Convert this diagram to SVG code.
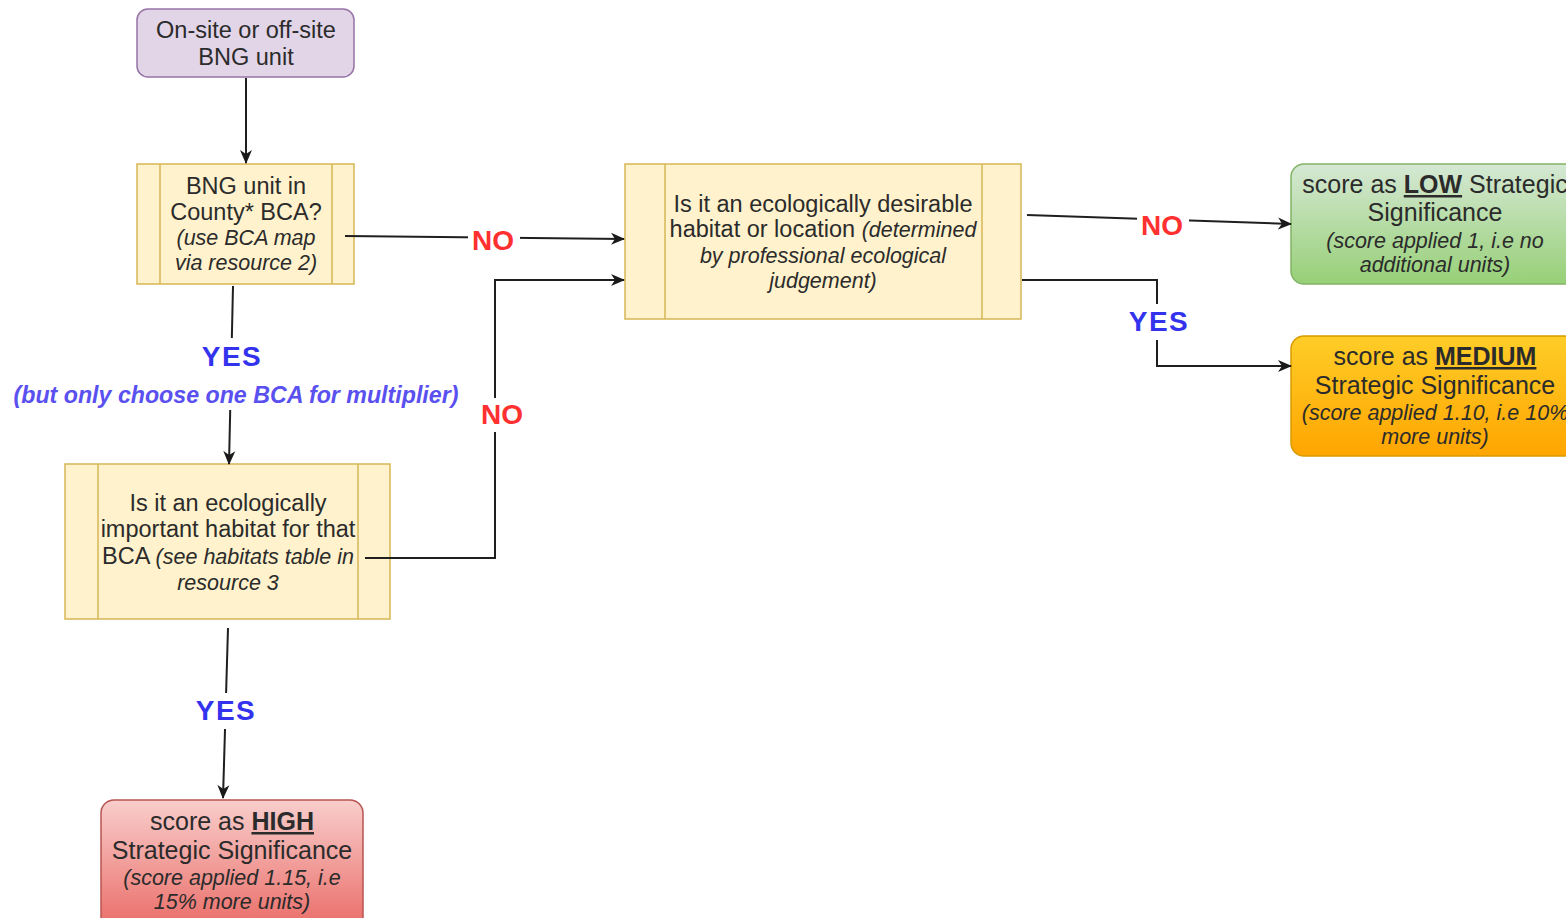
<svg xmlns="http://www.w3.org/2000/svg" width="1566" height="918" viewBox="0 0 1566 918">
<defs>
<linearGradient id="gGreen" x1="0" y1="0" x2="0" y2="1"><stop offset="0" stop-color="#d5e8d4"/><stop offset="1" stop-color="#97d077"/></linearGradient>
<linearGradient id="gOrange" x1="0" y1="0" x2="0" y2="1"><stop offset="0" stop-color="#ffcd28"/><stop offset="1" stop-color="#ffa500"/></linearGradient>
<linearGradient id="gRed" x1="0" y1="0" x2="0" y2="1"><stop offset="0" stop-color="#f8cecc"/><stop offset="1" stop-color="#ea6b66"/></linearGradient>
<marker id="arr" markerWidth="14" markerHeight="14" refX="13" refY="7" orient="auto" markerUnits="userSpaceOnUse" viewBox="0 0 14 14">
<path d="M0,1 L14,7 L0,13 L4,7 Z" fill="#1a1a1a"/>
</marker>
<style>
text{font-family:"Liberation Sans",Arial,sans-serif;fill:#2b2b2b;text-anchor:middle}
.t{font-size:23.5px}
.r{font-size:25px}
.i{font-size:21.5px;font-style:italic}
.b{font-weight:bold;text-decoration:underline}
.proc{fill:#fff2cc;stroke:#d6b656;stroke-width:1.5}
.e{stroke:#1f1f1f;stroke-width:2;fill:none}
.no{font-size:28px;font-weight:bold;fill:#ff3030}
.yes{font-size:28px;font-weight:bold;fill:#3333ee;letter-spacing:1.5px}
.note{font-size:23.2px;font-weight:bold;font-style:italic;fill:#5a50f0}
</style>
</defs>

<g id="start">
<rect x="137" y="9" width="217" height="68" rx="11" fill="#e1d5e7" stroke="#9673a6" stroke-width="1.5"/>
<text class="t" x="246" y="38">On-site or off-site</text>
<text class="t" x="246" y="65">BNG unit</text>
</g>

<g id="q-bca">
<rect class="proc" x="137" y="164" width="217" height="120"/>
<line class="proc" x1="160" y1="164" x2="160" y2="284"/>
<line class="proc" x1="332" y1="164" x2="332" y2="284"/>
<text class="t" x="246" y="194">BNG unit in</text>
<text class="t" x="246" y="220">County* BCA?</text>
<text class="i" x="246" y="245">(use BCA map</text>
<text class="i" x="246" y="270">via resource 2)</text>
</g>

<g id="q-desirable">
<rect class="proc" x="625" y="164" width="396" height="155"/>
<line class="proc" x1="665" y1="164" x2="665" y2="319"/>
<line class="proc" x1="982" y1="164" x2="982" y2="319"/>
<text class="t" x="823" y="212">Is it an ecologically desirable</text>
<text x="823" y="237"><tspan class="t">habitat or location </tspan><tspan class="i">(determined</tspan></text>
<text class="i" x="823" y="263">by professional ecological</text>
<text class="i" x="823" y="288">judgement)</text>
</g>

<g id="q-important">
<rect class="proc" x="65" y="464" width="325" height="155"/>
<line class="proc" x1="98" y1="464" x2="98" y2="619"/>
<line class="proc" x1="358" y1="464" x2="358" y2="619"/>
<text class="t" x="228" y="511">Is it an ecologically</text>
<text class="t" x="228" y="537">important habitat for that</text>
<text x="228" y="564"><tspan class="t">BCA </tspan><tspan class="i">(see habitats table in</tspan></text>
<text class="i" x="228" y="590">resource 3</text>
</g>

<g id="low">
<rect x="1291" y="164" width="300" height="120" rx="13" fill="url(#gGreen)" stroke="#82b366" stroke-width="1.5"/>
<text class="r" x="1435" y="193">score as <tspan class="b">LOW</tspan> Strategic</text>
<text class="r" x="1435" y="221">Significance</text>
<text class="i" x="1435" y="248">(score applied 1, i.e no</text>
<text class="i" x="1435" y="272">additional units)</text>
</g>

<g id="medium">
<rect x="1291" y="336" width="300" height="120" rx="13" fill="url(#gOrange)" stroke="#d79b00" stroke-width="1.5"/>
<text class="r" x="1435" y="365">score as <tspan class="b">MEDIUM</tspan></text>
<text class="r" x="1435" y="394">Strategic Significance</text>
<text class="i" x="1435" y="420">(score applied 1.10, i.e 10%</text>
<text class="i" x="1435" y="444">more units)</text>
</g>

<g id="high">
<rect x="101" y="800" width="262" height="130" rx="13" fill="url(#gRed)" stroke="#b85450" stroke-width="1.5"/>
<text class="r" x="232" y="830">score as <tspan class="b">HIGH</tspan></text>
<text class="r" x="232" y="859">Strategic Significance</text>
<text class="i" x="232" y="885">(score applied 1.15, i.e</text>
<text class="i" x="232" y="909">15% more units)</text>
</g>

<g id="connectors">
<line class="e" x1="246" y1="78" x2="246" y2="163" marker-end="url(#arr)"/>
<line class="e" x1="345" y1="236" x2="624" y2="239" marker-end="url(#arr)"/>
<line class="e" x1="233" y1="286" x2="229" y2="464" marker-end="url(#arr)"/>
<polyline class="e" points="365,558 495,558 495,280 624,280" marker-end="url(#arr)"/>
<line class="e" x1="1027" y1="215" x2="1291" y2="224" marker-end="url(#arr)"/>
<polyline class="e" points="1022,280 1157,280 1157,366 1291,366" marker-end="url(#arr)"/>
<line class="e" x1="228" y1="628" x2="223" y2="798" marker-end="url(#arr)"/>
</g>

<g id="labels">
<rect x="468" y="224" width="52" height="32" fill="#fff"/>
<text class="no" x="493" y="250">NO</text>
<rect x="192" y="338" width="80" height="72" fill="#fff"/>
<text class="yes" x="232" y="366">YES</text>
<rect x="8" y="380" width="458" height="30" fill="#fff"/>
<text class="note" x="236" y="403">(but only choose one BCA for multiplier)</text>
<rect x="476" y="398" width="52" height="34" fill="#fff"/>
<text class="no" x="502" y="424">NO</text>
<rect x="1137" y="208" width="52" height="34" fill="#fff"/>
<text class="no" x="1162" y="235">NO</text>
<rect x="1124" y="304" width="70" height="36" fill="#fff"/>
<text class="yes" x="1159" y="331">YES</text>
<rect x="190" y="693" width="72" height="36" fill="#fff"/>
<text class="yes" x="226" y="720">YES</text>
</g>
</svg>
